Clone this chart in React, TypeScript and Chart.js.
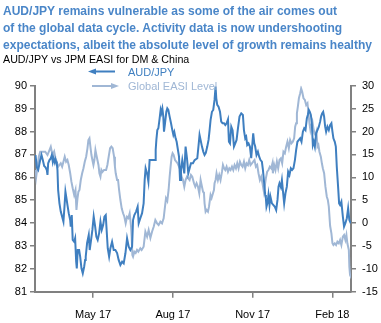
import React, { useEffect, useLayoutEffect, useRef } from 'react';
import { Chart, registerables } from 'chart.js';

Chart.register(...registerables);

// Day offsets from 23 Feb 2017 (day 0) to 22 Feb 2018
const audDays = [0.6,2.1,3.7,6.0,7.5,9.0,10.6,12.1,13.6,14.4,15.2,16.7,18.2,19.4,20.5,21.3,22.8,23.6,24.4,25.1,25.9,26.7,28.2,29.7,31.3,32.8,34.0,35.1,36.3,37.4,38.9,40.6,41.2,42.4,43.5,45.2,46.3,47.5,48.2,49.3,50.9,52.1,53.6,55.1,56.7,57.8,58.5,60.1,62.0,63.1,64.7,66.2,67.7,69.4,70.8,72.3,74.0,75.5,77.0,78.6,80.1,81.6,82.4,83.9,85.5,87.0,88.9,90.8,92.7,94.7,96.5,98.5,100.5,102.3,104.3,106.2,108.1,110.0,112.0,113.1,114.6,116.6,118.4,119.6,121.5,123.5,125.3,126.5,127.6,129.3,130.8,132.2,135.4,138.5,139.2,140.0,141.1,142.3,143.8,144.9,145.7,146.9,148.0,148.8,150.0,151.5,152.6,153.8,155.3,156.9,158.4,159.6,160.7,162.2,163.4,166.1,167.3,168.4,169.9,172.2,173.7,175.3,176.8,179.9,182.2,184.1,187.2,188.7,189.8,191.0,192.6,194.1,195.6,197.0,198.7,200.2,201.4,202.5,204.1,205.6,207.1,208.3,209.1,210.2,211.7,213.4,214.8,216.3,218.0,219.5,221.0,222.6,223.7,224.9,226.4,227.9,229.5,231.0,232.5,234.1,235.9,237.9,239.8,241.0,242.5,243.6,244.8,246.3,247.9,249.4,250.6,251.7,252.9,254.0,255.5,257.1,258.6,260.1,261.7,262.9,264.0,264.7,265.5,266.3,267.0,268.2,269.3,270.5,271.6,273.3,276.7,278.2,279.7,280.9,282.0,283.6,284.8,285.9,287.4,288.9,290.5,292.0,293.5,295.1,296.6,298.1,299.8,301.2,302.7,304.4,305.9,307.4,309.0,310.5,312.0,313.6,314.7,315.9,317.0,318.2,319.3,320.5,321.6,322.8,324.3,325.8,327.4,328.9,330.0,331.2,332.4,333.5,334.7,335.8,337.3,338.9,340.4,341.9,343.1,344.2,345.8,347.0,348.1,349.6,350.8,351.9,353.4,355.1,356.5,358.0,359.7,361.2,362.6,364.3];
const audJpy = [86.97,86.43,86.32,86.75,86.97,86.75,86.49,86.43,86.32,86.10,86.61,86.75,86.83,86.97,86.68,86.83,86.64,86.78,86.68,86.61,86.32,85.44,84.86,84.50,84.28,84.06,84.71,85.37,85.08,84.79,84.43,84.13,83.84,84.35,83.26,83.18,83.33,82.31,82.02,82.82,82.82,82.53,82.02,81.80,82.09,82.39,82.53,83.13,83.48,82.82,83.26,83.70,84.28,83.84,83.40,83.26,83.56,84.06,83.70,83.91,84.28,84.35,83.84,82.90,82.53,82.90,83.18,82.82,82.82,82.69,82.39,82.17,82.31,82.24,82.68,83.33,82.97,82.82,82.97,84.13,84.35,84.50,84.71,83.99,84.21,84.43,84.86,85.88,86.39,86.17,85.81,86.75,86.75,86.75,87.19,87.63,88.06,88.14,88.58,88.94,88.81,89.01,88.65,87.99,88.36,88.86,89.01,88.94,88.65,88.36,88.06,87.85,87.98,87.70,87.55,86.90,85.88,86.32,86.75,86.17,87.34,86.83,86.17,86.61,86.61,86.75,86.83,87.41,87.85,87.63,87.34,87.12,86.97,87.06,87.34,87.63,88.06,88.50,88.86,88.94,89.38,89.96,89.45,89.16,89.08,88.86,88.43,88.36,88.36,88.28,88.36,88.53,87.55,87.48,88.21,88.06,87.34,87.48,87.63,88.14,88.65,88.79,88.72,88.06,87.70,87.77,87.41,87.48,87.34,86.83,87.41,87.92,87.48,87.34,86.97,87.12,86.90,86.75,86.68,86.32,85.88,85.59,85.23,85.08,84.71,84.88,85.23,84.79,85.15,84.86,84.71,84.57,85.01,85.59,85.74,85.57,85.88,85.44,84.86,85.30,85.59,86.24,86.10,86.39,86.32,86.39,86.75,87.19,87.55,87.63,87.70,87.55,87.99,88.14,88.06,88.58,88.72,88.94,88.86,88.72,88.36,87.41,87.55,87.34,87.92,88.06,88.21,88.43,88.65,88.79,88.86,88.65,88.21,87.99,88.21,88.06,88.28,88.36,87.99,87.70,87.55,87.34,86.46,85.59,84.86,84.79,84.93,84.28,83.84,83.99,84.21,84.64,84.13,83.99];

const easiDays = [0.6,1.4,2.9,4.4,6.0,9.0,11.8,14.4,16.7,18.2,19.4,20.5,22.1,23.6,25.1,26.7,28.2,29.7,31.3,32.8,34.3,35.9,37.4,38.9,40.6,42.0,43.5,45.2,46.7,47.8,49.0,50.1,51.3,52.8,54.4,55.9,57.4,59.0,60.5,61.6,62.8,63.9,65.1,66.2,67.4,68.5,69.7,70.8,72.0,73.2,74.3,75.5,76.6,77.8,79.7,82.0,83.5,85.0,86.6,88.1,89.6,91.2,92.2,93.1,94.7,95.8,97.0,98.5,100.0,101.6,103.1,104.6,106.2,107.7,109.2,110.8,111.5,112.3,113.1,114.6,116.1,117.7,119.2,121.5,123.0,125.3,127.3,129.3,131.1,133.1,135.0,136.9,138.8,140.8,142.6,144.6,146.5,148.4,149.5,151.1,152.6,154.1,155.3,156.4,157.6,158.7,159.9,161.5,163.0,164.5,166.1,167.6,169.1,170.7,172.2,173.7,175.3,176.8,178.3,179.9,181.4,183.4,184.9,186.4,188.0,189.5,191.0,192.6,193.8,194.9,195.6,196.8,197.9,199.5,200.7,202.5,203.7,205.3,206.4,207.1,208.3,209.4,211.0,212.5,214.0,215.7,216.8,218.0,219.5,221.0,222.6,224.1,225.6,227.2,228.7,230.2,231.8,233.3,234.8,236.4,237.9,239.4,241.0,242.5,244.0,245.6,247.1,248.6,250.2,251.7,253.2,254.8,256.3,257.8,259.4,260.9,262.4,264.0,265.2,266.3,267.8,269.3,270.9,272.4,273.9,274.4,275.9,277.4,279.0,280.5,282.0,283.6,285.1,286.6,288.2,289.7,291.2,292.8,294.3,295.8,297.4,298.9,300.1,301.2,302.1,303.2,304.4,305.9,307.0,308.2,309.7,311.3,312.8,314.3,315.4,316.6,317.7,318.9,320.0,321.2,322.3,323.5,324.6,325.8,326.9,328.1,329.7,330.9,332.0,333.5,335.0,336.6,337.8,338.9,340.4,341.9,343.1,344.2,345.8,347.3,348.8,350.4,351.9,353.4,355.1,356.5,358.0,359.2,360.3,362.0,362.6,363.4,364.3];
const easiLevel = [11.59,10.12,12.31,14.49,15.58,15.58,15.58,14.86,15.95,16.68,15.58,14.86,15.58,14.21,13.40,12.31,12.68,13.05,12.31,13.40,14.49,13.40,13.77,12.68,10.87,9.03,7.59,6.13,7.22,2.85,5.40,6.85,7.22,9.40,10.87,11.96,13.40,14.49,16.33,18.14,18.51,16.68,14.86,13.77,12.68,13.77,15.95,14.86,13.77,12.68,10.87,10.12,11.59,11.15,11.59,11.59,12.68,14.49,16.33,16.68,16.33,14.49,12.31,10.87,9.40,9.40,7.22,5.03,3.22,2.13,1.38,-0.06,1.38,1.10,2.13,-0.80,-2.98,-6.98,-7.35,-6.26,-6.54,-5.89,-6.26,-5.52,-5.89,-5.17,-1.89,-2.98,-1.52,-3.27,-1.89,-0.80,0.66,-0.06,-0.43,0.29,-0.06,1.04,2.85,5.40,4.81,7.22,10.12,12.31,14.49,15.23,14.86,13.77,13.40,13.05,12.31,11.59,10.12,9.40,7.94,9.40,10.12,9.77,9.40,10.49,10.12,8.68,7.94,8.68,7.94,6.50,9.40,7.94,6.85,6.50,4.31,2.48,2.85,2.48,3.57,6.13,5.47,6.50,7.22,8.68,9.40,10.87,9.40,10.49,9.40,11.21,12.68,12.02,11.59,12.31,11.21,11.96,11.59,12.31,11.59,12.68,11.96,13.05,11.96,13.40,12.68,12.31,13.40,11.96,13.05,12.68,13.77,12.68,13.05,13.40,13.77,12.31,12.68,10.87,9.40,10.12,8.68,6.85,8.31,9.77,11.21,11.59,12.31,11.96,13.05,10.87,12.68,11.59,13.40,11.96,13.77,14.14,13.05,15.58,15.23,16.68,17.77,16.33,18.14,17.42,17.77,18.51,21.04,21.79,23.97,25.41,27.25,28.34,29.39,28.69,27.25,26.88,25.78,26.16,23.97,21.79,20.32,21.42,22.14,20.69,19.60,19.23,19.95,16.68,17.05,15.58,14.49,13.05,11.96,10.87,7.94,5.75,5.03,3.57,-0.60,-2.24,-4.43,-4.80,-4.43,-4.80,-4.08,-4.43,-3.70,-4.80,-2.98,-2.61,-3.70,-2.61,-4.43,-5.89,-9.54,-11.35,-11.72];

const xTickDays = [67, 159, 251, 343];
const xTickLabels = ['May 17', 'Aug 17', 'Nov 17', 'Feb 18'];

const titleLines = [
  'AUD/JPY remains vulnerable as some of the air comes out',
  'of the global data cycle. Activity data is now undershooting',
  'expectations, albeit the absolute level of growth remains healthy',
];
const subtitle = 'AUD/JPY vs JPM EASI for DM & China';
const seriesNames = ['AUD/JPY', 'Global EASI Level'];

const DARK = '#3f7fc0';
const LIGHT = '#a0b7d5';
const AXIS = '#808080';
const FONT = '"Liberation Sans", Arial, sans-serif';
const TITLE_TARGET_WIDTH = 369;

const legendPlugin = {
  id: 'arrowLegend',
  afterDraw(chart: any) {
    const ctx = chart.ctx;
    ctx.save();
    ctx.lineWidth = 2;
    ctx.strokeStyle = DARK;
    ctx.fillStyle = DARK;
    ctx.beginPath();
    ctx.moveTo(115, 71.5);
    ctx.lineTo(93, 71.5);
    ctx.stroke();
    ctx.beginPath();
    ctx.moveTo(88, 71.5);
    ctx.lineTo(96, 68.5);
    ctx.lineTo(96, 74.5);
    ctx.closePath();
    ctx.fill();
    ctx.strokeStyle = LIGHT;
    ctx.fillStyle = LIGHT;
    ctx.beginPath();
    ctx.moveTo(92, 86);
    ctx.lineTo(114, 86);
    ctx.stroke();
    ctx.beginPath();
    ctx.moveTo(119, 86);
    ctx.lineTo(111, 83);
    ctx.lineTo(111, 89);
    ctx.closePath();
    ctx.fill();
    ctx.font = '11px ' + FONT;
    ctx.textBaseline = 'alphabetic';
    ctx.textAlign = 'left';
    ctx.fillStyle = DARK;
    ctx.fillText(seriesNames[0], 128, 75.5);
    ctx.fillStyle = LIGHT;
    ctx.fillText(seriesNames[1], 128, 90);
    ctx.restore();
  },
};

export default function App() {
  const ref = useRef<HTMLCanvasElement | null>(null);
  const titleRef = useRef<HTMLDivElement | null>(null);

  useLayoutEffect(() => {
    const box = titleRef.current;
    if (!box) return;
    const spans = Array.from(box.querySelectorAll('span')) as HTMLSpanElement[];
    let w = 0;
    spans.forEach((s) => {
      w = Math.max(w, s.getBoundingClientRect().width);
    });
    if (w > 0) {
      box.style.transform = `scaleX(${TITLE_TARGET_WIDTH / w})`;
    }
  }, []);

  useEffect(() => {
    if (!ref.current) return;
    const chart = new Chart(ref.current, {
      type: 'line',
      data: {
        datasets: [
          {
            label: seriesNames[0],
            data: audDays.map((d, i) => ({ x: d, y: audJpy[i] })),
            borderColor: DARK,
            borderWidth: 2,
            pointRadius: 0,
            yAxisID: 'y',
            tension: 0,
          },
          {
            label: seriesNames[1],
            data: easiDays.map((d, i) => ({ x: d, y: easiLevel[i] })),
            borderColor: LIGHT,
            borderWidth: 2,
            pointRadius: 0,
            yAxisID: 'y2',
            tension: 0,
          },
        ],
      },
      options: {
        responsive: false,
        animation: false,
        events: [],
        layout: { padding: { top: 85.7, left: 0, right: 0, bottom: 0 } },
        plugins: { legend: { display: false }, tooltip: { enabled: false }, title: { display: false } },
        scales: {
          x: {
            type: 'linear',
            min: 0,
            max: 364.5,
            afterBuildTicks: (scale: any) => {
              scale.ticks = xTickDays.map((v) => ({ value: v }));
            },
            afterFit: (scale: any) => {
              scale.height = 31.3;
            },
            ticks: {
              autoSkip: false,
              maxRotation: 0,
              padding: 11,
              color: '#000',
              font: { family: FONT, size: 11 },
              callback: (v: any) => {
                const i = xTickDays.indexOf(Number(v));
                return i >= 0 ? xTickLabels[i] : '';
              },
            },
            grid: { drawOnChartArea: false, drawTicks: true, tickLength: 6, color: AXIS, lineWidth: 1.5 },
            border: { display: true, color: AXIS, width: 2 },
          },
          y: {
            position: 'left',
            min: 81,
            max: 90,
            afterFit: (scale: any) => {
              scale.width = 35;
            },
            ticks: { stepSize: 1, padding: 3, color: '#000', font: { family: FONT, size: 11 } },
            grid: { drawOnChartArea: false, drawTicks: true, tickLength: 5, color: AXIS, lineWidth: 1.5 },
            border: { display: true, color: AXIS, width: 2 },
          },
          y2: {
            position: 'right',
            min: -15,
            max: 30,
            afterFit: (scale: any) => {
              scale.width = 30;
            },
            ticks: { stepSize: 5, padding: 6, color: '#000', font: { family: FONT, size: 11 } },
            grid: { drawOnChartArea: false, drawTicks: true, tickLength: 5, color: AXIS, lineWidth: 1.5 },
            border: { display: true, color: AXIS, width: 2 },
          },
        },
      },
      plugins: [legendPlugin],
    } as any);
    return () => chart.destroy();
  }, []);

  return (
    <div style={{ position: 'absolute', left: 0, top: 0, width: 381, height: 323, background: '#fff', overflow: 'hidden' }}>
      <canvas ref={ref} width={381} height={323} style={{ position: 'absolute', left: 0, top: 0, width: 381, height: 323 }} />
      <div
        ref={titleRef}
        style={{
          position: 'absolute',
          left: 3,
          top: 2,
          transformOrigin: '0 0',
          font: 'bold 13px "Liberation Sans", Arial, sans-serif',
          lineHeight: '17px',
          color: '#4a86c8',
          whiteSpace: 'nowrap',
        }}
      >
        {titleLines.map((t, i) => (
          <div key={i}>
            <span>{t}</span>
          </div>
        ))}
      </div>
      <div
        style={{
          position: 'absolute',
          left: 3,
          top: 52,
          font: '10.7px "Liberation Sans", Arial, sans-serif',
          lineHeight: '14px',
          color: '#000',
          whiteSpace: 'nowrap',
        }}
      >
        {subtitle}
      </div>
    </div>
  );
}
